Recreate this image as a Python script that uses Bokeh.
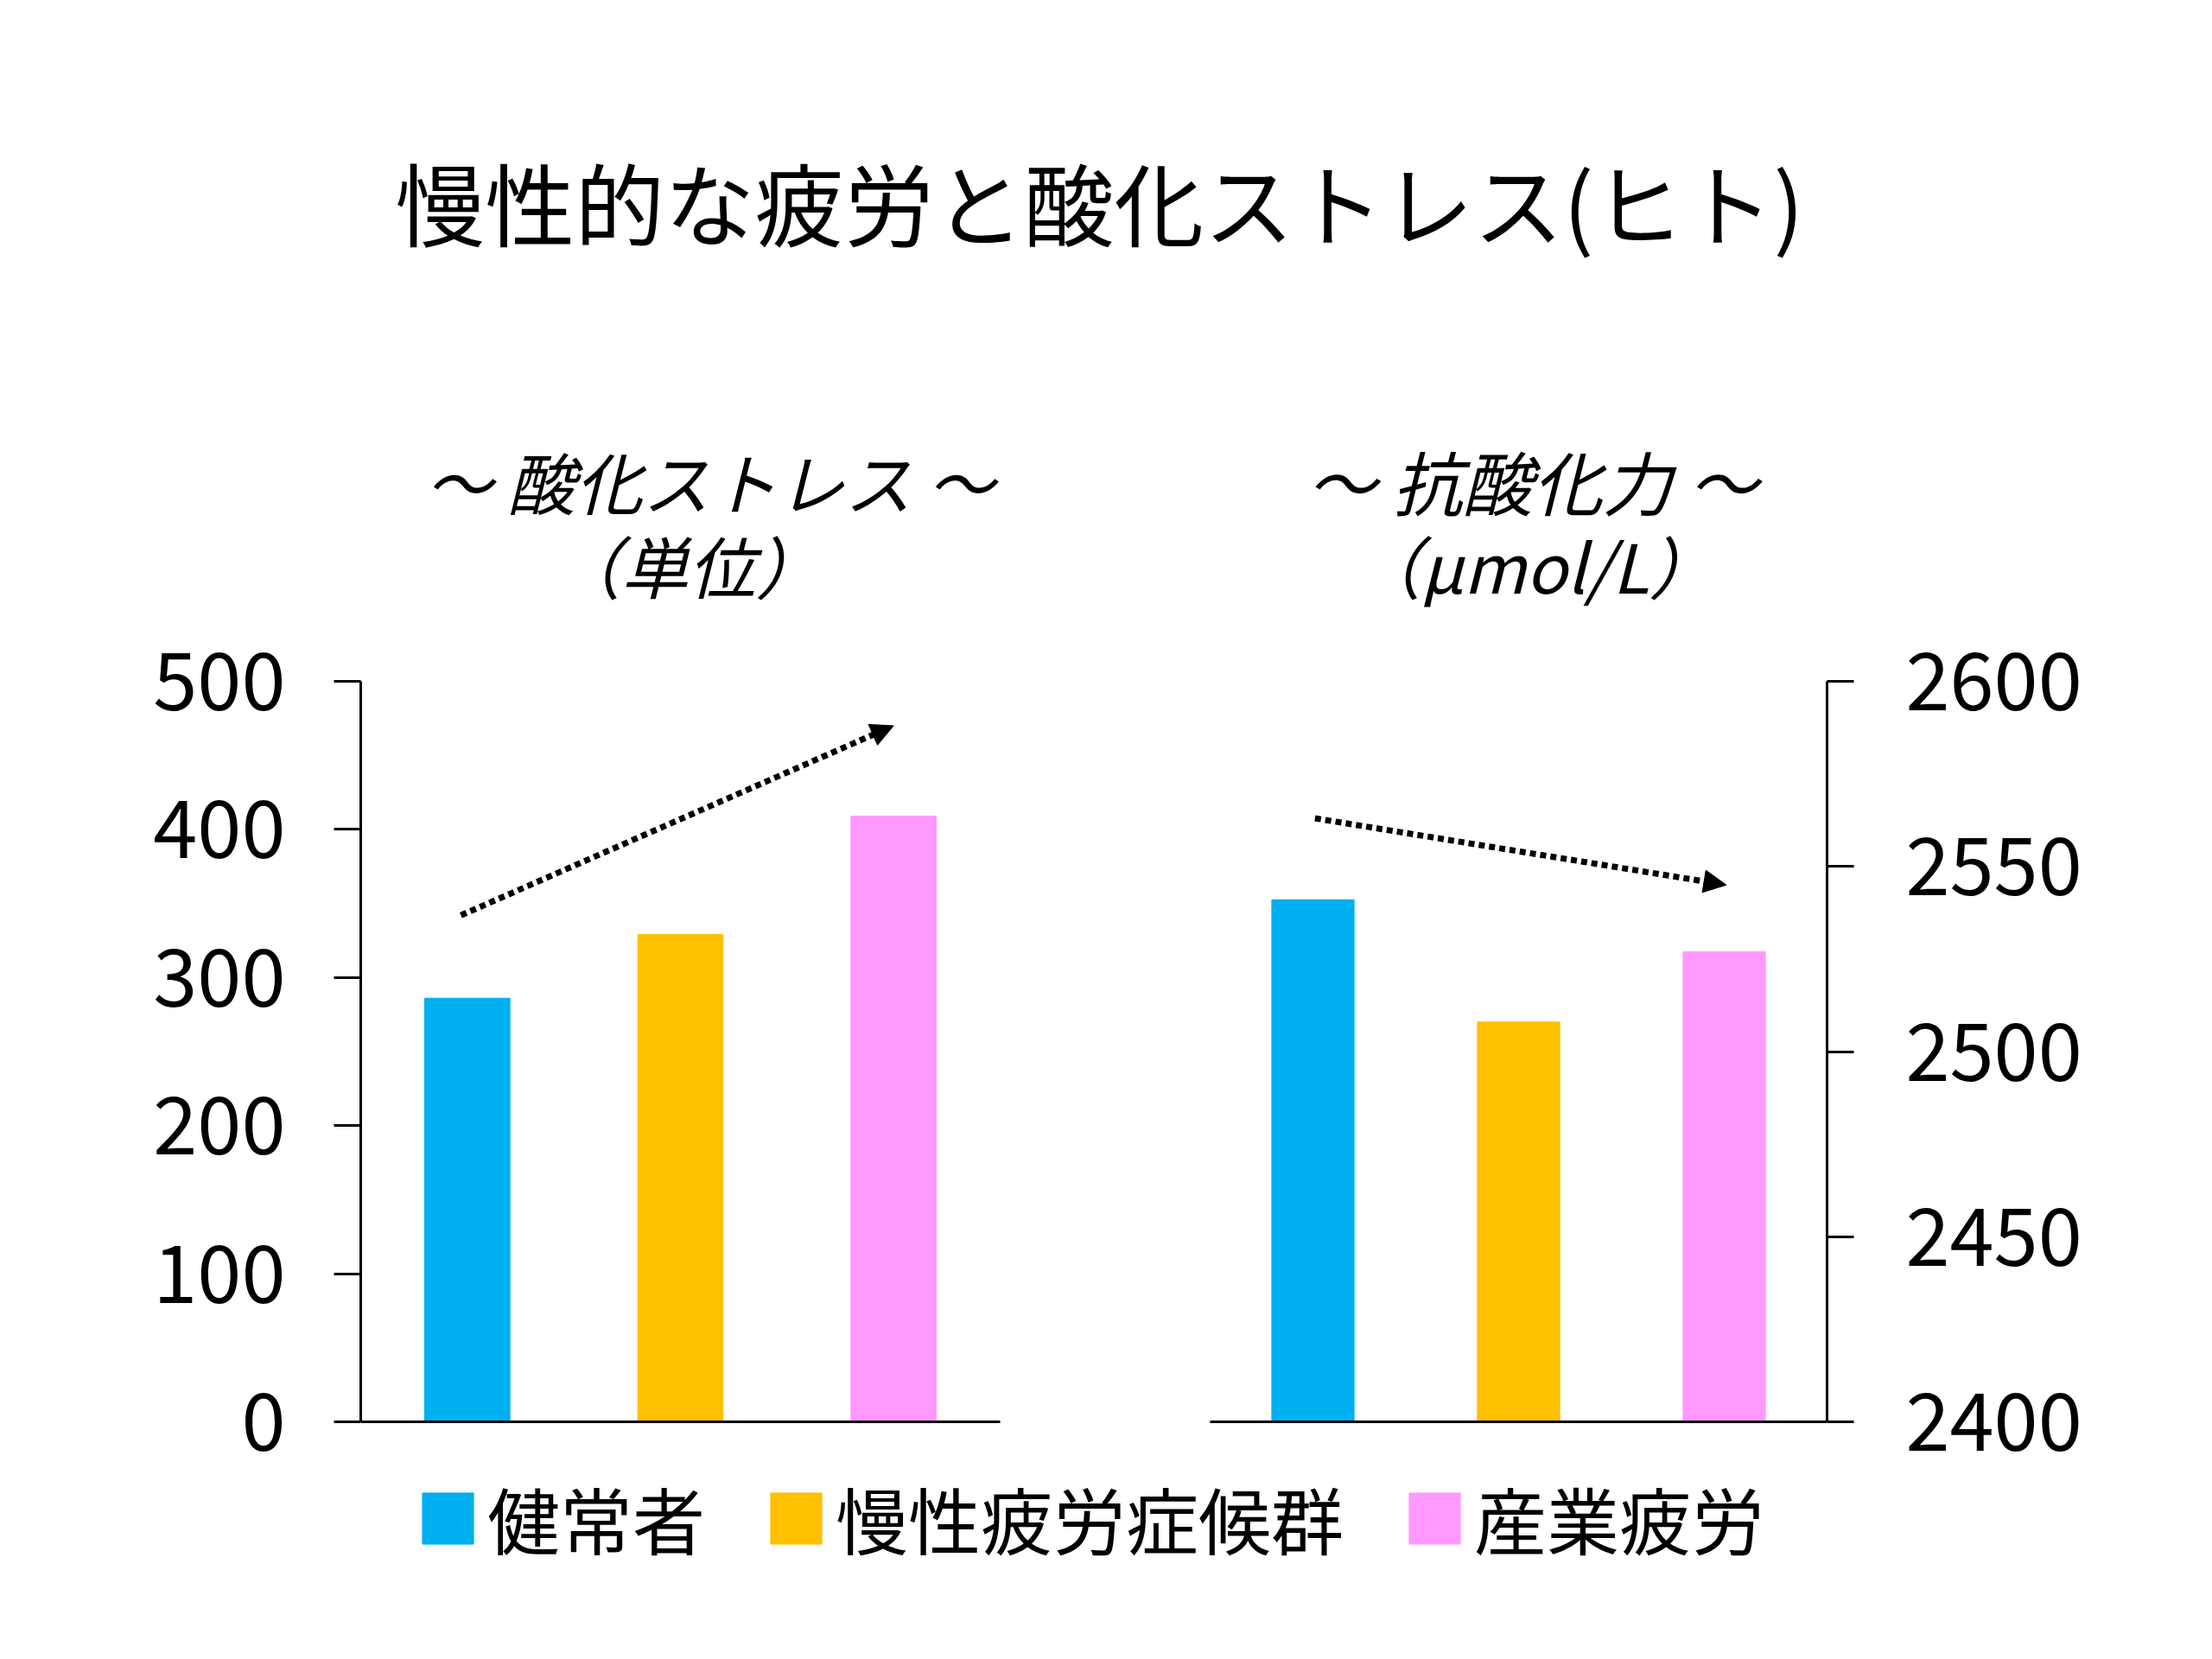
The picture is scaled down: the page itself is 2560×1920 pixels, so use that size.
from bokeh.plotting import figure
from bokeh.models import (Range1d, FixedTicker, Arrow, NormalHead, Label, Legend,
                          LegendItem, ColumnDataSource, LinearAxis)
from bokeh.embed import file_html
from bokeh.resources import INLINE

JP = "Noto Sans CJK JP"

# ---- data ----
title_text = "慢性的な疲労と酸化ストレス(ヒト)"
left_title = ["～ 酸化ストレス ～", "（単位）"]
right_title = ["～ 抗酸化力 ～", "（μmol/L）"]
groups = ["健常者", "慢性疲労症候群", "産業疲労"]
colors = ["#00B0F0", "#FFC000", "#FF99FF"]
stress = [286, 329, 409]
antiox = [2541, 2508, 2527]
left_ticks = [0, 100, 200, 300, 400, 500]
right_ticks = [2400, 2450, 2500, 2550, 2600]
left_lim = [0, 500]
right_lim = [2400, 2600]
left_arrow = [0.47, 342, 2.5, 470]      # x0, y0, x1, y1 (trend up)
right_arrow = [0.51, 2563, 2.51, 2545]  # x0, y0, x1, y1 (trend down)

# ---- geometry (page pixels) ----
W, H = 2544, 1904
PAGE_T, PAGE_B = 8, 8 + H
FRAME_L, FRAME_R = 425, 2122          # frame spans the full height, axes at its sides
AX_TOP, AX_ZERO = 796, 1653           # page y of the axis top and of the bars' base
LEFT_END = 1165                       # right end of the left panel
RIGHT_START = 1408                    # left end of the right panel

n = len(groups)
slot_l = (LEFT_END - FRAME_L) / n
slot_r = (FRAME_R - RIGHT_START) / n


def yrange(lim):
    k = (AX_ZERO - AX_TOP) / (lim[1] - lim[0])
    return Range1d(lim[0] - (PAGE_B - AX_ZERO) / k, lim[0] + (AX_ZERO - PAGE_T) / k)


p = figure(width=W, height=H, toolbar_location=None, output_backend="svg", title=None,
           x_range=Range1d(0, (FRAME_R - FRAME_L) / slot_l),
           y_range=yrange(left_lim), x_axis_type=None,
           min_border_left=FRAME_L - 8, min_border_right=W + 8 - FRAME_R,
           min_border_top=0, min_border_bottom=0)
p.outline_line_color = None
p.ygrid.visible = False
p.extra_x_ranges = {"right": Range1d(-(RIGHT_START - FRAME_L) / slot_r, n),
                    "px": Range1d(FRAME_L, FRAME_R)}
p.extra_y_ranges = {"anti": yrange(right_lim), "py": Range1d(PAGE_B, PAGE_T)}

xs = [i + 0.5 for i in range(n)]

# ---- bars ----
lsrc = ColumnDataSource(dict(x=xs, top=stress, color=colors))
rl = p.vbar(x="x", top="top", bottom=left_lim[0], width=0.4, color="color", source=lsrc)
rsrc = ColumnDataSource(dict(x=xs, top=antiox, color=colors))
p.vbar(x="x", top="top", bottom=right_lim[0], width=0.4, color="color", source=rsrc,
       x_range_name="right", y_range_name="anti")

# ---- baselines ----
p.segment(x0=[0], y0=[left_lim[0]], x1=[n], y1=[left_lim[0]], line_color="black", line_width=3)
p.segment(x0=[0], y0=[right_lim[0]], x1=[n], y1=[right_lim[0]], line_color="black",
          line_width=3, x_range_name="right", y_range_name="anti")


def style_axis(ax, ticks, lim, standoff):
    ax.ticker = FixedTicker(ticks=ticks)
    ax.bounds = (lim[0], lim[1])
    ax.major_label_text_font = JP
    ax.major_label_text_font_size = "92px"
    ax.major_label_text_color = "black"
    ax.major_tick_out = 31
    ax.major_tick_in = 0
    ax.minor_tick_out = 0
    ax.minor_tick_in = 0
    ax.axis_line_width = 3
    ax.major_tick_line_width = 3
    ax.axis_line_color = "black"
    ax.major_tick_line_color = "black"
    ax.major_label_standoff = standoff


style_axis(p.yaxis[0], left_ticks, left_lim, 56)
ra = LinearAxis(y_range_name="anti")
style_axis(ra, right_ticks, right_lim, 60)
p.add_layout(ra, "right")

# ---- trend arrows ----
p.add_layout(Arrow(end=NormalHead(size=26, fill_color="black", line_color="black"),
                   x_start=left_arrow[0], y_start=left_arrow[1],
                   x_end=left_arrow[2], y_end=left_arrow[3],
                   line_width=7, line_dash="7 5", line_color="black"))
p.add_layout(Arrow(end=NormalHead(size=26, fill_color="black", line_color="black"),
                   x_start=right_arrow[0], y_start=right_arrow[1],
                   x_end=right_arrow[2], y_end=right_arrow[3],
                   line_width=7, line_dash="7 5", line_color="black",
                   x_range_name="right", y_range_name="anti"))

# ---- title and panel headings ----
p.add_layout(Label(x=1280, y=240, text=title_text, text_font=JP, text_font_size="104px",
                   text_align="center", text_baseline="middle", text_color="black",
                   x_range_name="px", y_range_name="py"))
for (txt, x, y, fs) in [(left_title[0], 829, 563, "78px"), (left_title[1], 804, 660, "78px"),
                        (right_title[0], 1781, 563, "81px"), (right_title[1], 1784, 660, "78px")]:
    p.add_layout(Label(x=x, y=y, text=txt, text_font=JP, text_font_size=fs,
                       text_font_style="italic", text_align="center",
                       text_baseline="middle", text_color="black",
                       x_range_name="px", y_range_name="py"))

# ---- legend ----
items = [LegendItem(label=g, renderers=[rl], index=i) for i, g in enumerate(groups)]
legend = Legend(items=items, orientation="horizontal",
                location=(489 - FRAME_L, PAGE_B - 1825),
                glyph_width=74, glyph_height=74, label_standoff=9, spacing=68,
                padding=0, margin=0, border_line_color=None, background_fill_alpha=0,
                label_text_font=JP, label_text_font_size="84px",
                label_text_color="black")
p.add_layout(legend)

open("out.html", "w").write(file_html(p, INLINE))
